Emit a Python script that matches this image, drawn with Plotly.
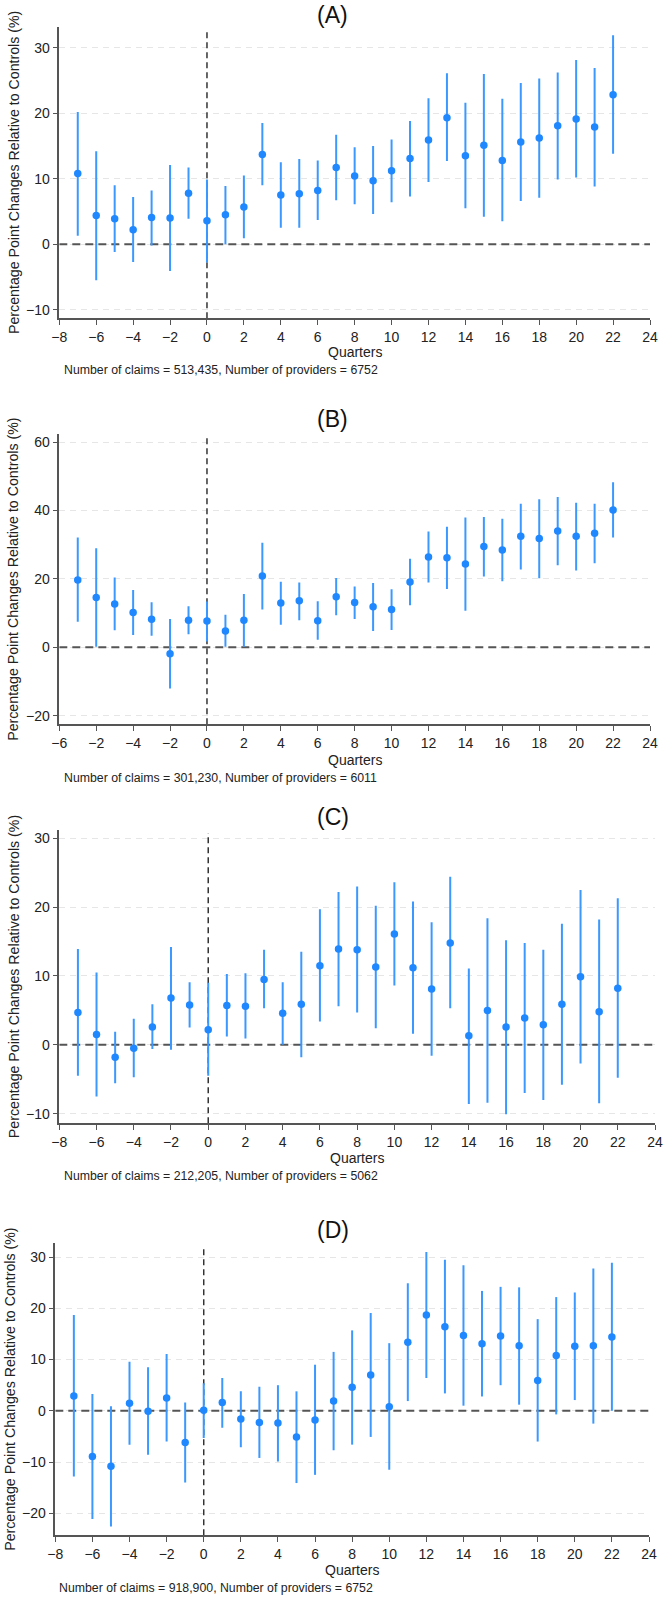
import plotly.graph_objects as go

# ---------------- data ----------------
quarters = list(range(-7, 23))

a_est = [10.8, 4.4, 3.9, 2.2, 4.1, 4.0, 7.8, 3.6, 4.5, 5.7, 13.7, 7.5, 7.7, 8.2, 11.7,
         10.4, 9.7, 11.2, 13.1, 15.9, 19.3, 13.5, 15.1, 12.8, 15.6, 16.2, 18.1, 19.1, 17.9, 22.8]
a_hi = [20.2, 14.2, 9.0, 7.2, 8.2, 12.1, 11.7, 9.9, 8.9, 10.5, 18.5, 12.5, 13.0, 12.8, 16.7,
        14.8, 15.0, 16.0, 18.8, 22.3, 26.1, 21.6, 26.0, 22.2, 24.6, 25.3, 26.2, 28.1, 26.9, 31.9]
a_lo = [1.3, -5.5, -1.2, -2.7, -0.2, -4.1, 3.9, -2.8, 0.0, 0.9, 9.0, 2.5, 2.5, 3.7, 6.7,
        6.1, 4.6, 6.4, 7.3, 9.5, 12.7, 5.5, 4.2, 3.5, 6.6, 7.1, 9.9, 10.2, 8.8, 13.8]

b_est = [19.7, 14.6, 12.7, 10.2, 8.2, -1.9, 7.9, 7.7, 4.8, 7.9, 20.9, 13.0, 13.6, 7.8, 14.8,
         13.1, 11.9, 11.1, 19.1, 26.4, 26.2, 24.4, 29.5, 28.5, 32.5, 31.8, 34.0, 32.5, 33.4, 40.2]
b_hi = [32.1, 29.0, 20.4, 16.8, 13.2, 8.3, 12.0, 13.4, 9.5, 15.6, 30.6, 19.2, 19.0, 13.5, 20.3,
        17.8, 18.8, 17.0, 25.9, 33.9, 35.3, 38.0, 38.1, 37.6, 42.0, 43.3, 44.0, 42.3, 42.0, 48.3]
b_lo = [7.5, 0.2, 5.0, 3.6, 3.4, -12.0, 3.8, 1.7, 0.2, 0.2, 11.1, 6.6, 7.9, 2.2, 9.4,
        8.3, 4.8, 5.1, 12.3, 19.0, 17.1, 10.7, 20.7, 19.3, 22.8, 20.2, 24.0, 22.5, 24.6, 32.1]

c_est = [4.7, 1.5, -1.8, -0.5, 2.6, 6.8, 5.8, 2.2, 5.7, 5.6, 9.5, 4.6, 5.9, 11.5, 13.9,
         13.8, 11.3, 16.1, 11.2, 8.1, 14.8, 1.3, 5.0, 2.6, 3.9, 2.9, 5.9, 9.9, 4.8, 8.2]
c_hi = [13.9, 10.5, 1.9, 3.8, 5.9, 14.2, 9.1, 9.0, 10.3, 10.4, 13.8, 9.1, 13.5, 19.7, 22.2,
        23.0, 20.2, 23.6, 20.8, 17.8, 24.4, 11.1, 18.4, 15.2, 14.8, 13.8, 17.6, 22.5, 18.2, 21.3]
c_lo = [-4.5, -7.5, -5.6, -4.7, -0.6, -0.7, 2.5, -4.5, 1.2, 0.9, 5.3, 0.0, -1.8, 3.4, 5.6,
        4.7, 2.4, 8.6, 1.6, -1.6, 5.3, -8.6, -8.4, -10.1, -7.0, -8.0, -5.8, -2.7, -8.5, -4.8]

d_est = [2.9, -8.9, -10.8, 1.5, -0.1, 2.5, -6.2, 0.1, 1.6, -1.6, -2.3, -2.4, -5.1, -1.8, 1.9,
         4.6, 7.0, 0.8, 13.4, 18.7, 16.4, 14.7, 13.1, 14.6, 12.7, 5.9, 10.8, 12.6, 12.7, 14.4]
d_hi = [18.7, 3.3, 0.9, 9.6, 8.5, 11.1, 1.6, 5.4, 6.4, 3.8, 4.7, 5.0, 3.8, 9.0, 11.5,
        15.7, 19.1, 13.2, 24.9, 31.0, 29.5, 28.4, 23.4, 24.2, 24.1, 17.9, 22.2, 23.1, 27.8, 28.9]
d_lo = [-12.8, -21.1, -22.6, -6.6, -8.6, -6.0, -14.0, -5.3, -3.3, -7.1, -9.2, -9.9, -14.1, -12.5, -7.7,
        -6.6, -5.1, -11.5, 1.9, 6.4, 3.4, 1.0, 2.8, 5.0, 1.2, -6.0, -0.7, 2.1, -2.5, 0.0]

panel_labels = ["(A)", "(B)", "(C)", "(D)"]
footnotes = [
    "Number of claims = 513,435, Number of providers = 6752",
    "Number of claims = 301,230, Number of providers = 6011",
    "Number of claims = 212,205, Number of providers = 5062",
    "Number of claims = 918,900, Number of providers = 6752",
]
x_tickvals = list(range(-8, 25, 2))
x_ticktext_default = [("\u2212" + str(-v)) if v < 0 else str(v) for v in x_tickvals]
x_ticktext_b = ["\u22126", "\u22122", "\u22124", "\u22122"] + [str(v) for v in range(0, 25, 2)]
y_ticks = [[-10, 0, 10, 20, 30], [-20, 0, 20, 40, 60], [-10, 0, 10, 20, 30], [-20, -10, 0, 10, 20, 30]]
y_ranges = [[-11.3, 33.2], [-22.5, 62.3], [-11.4, 31.2], [-24.3, 32.7]]
x_range = [-8, 24]
y_title = "Percentage Point Changes Relative to Controls (%)"
x_title = "Quarters"

# ---------------- layout geometry (pixels) ----------------
W, H = 665, 1597
# (left, right, top, bottom, title_y, xtitle_y, foot_y, foot_x, ytitle_x)
geom = [
    (59.3, 650.0, 26.7, 318.3, 15, 352, 370, 62.7, 13.5),
    (59.3, 650.0, 434.3, 724.3, 419, 760, 778, 62.7, 13.5),
    (59.3, 655.0, 830.0, 1123.3, 817, 1158, 1176, 62.7, 13.5),
    (55.3, 649.0, 1243.3, 1535.3, 1230, 1570, 1587.5, 58.0, 10.5),
]

FONT = "Liberation Sans, Arial, sans-serif"
MARK = "#1f88ff"
LINE = "#3a98ff"

fig = go.Figure()
panels = [(a_est, a_lo, a_hi), (b_est, b_lo, b_hi), (c_est, c_lo, c_hi), (d_est, d_lo, d_hi)]
annotations = []

for i, (est, lo, hi) in enumerate(panels):
    n = i + 1
    xa = "x" if n == 1 else f"x{n}"
    ya = "y" if n == 1 else f"y{n}"
    yr = y_ranges[i]
    # reference lines (drawn first so the estimates sit on top)
    fig.add_trace(go.Scatter(
        x=x_range, y=[0, 0], mode="lines", xaxis=xa, yaxis=ya,
        line=dict(color="#555555", width=2, dash="8px,5px"),
        showlegend=False, hoverinfo="skip",
    ))
    fig.add_trace(go.Scatter(
        x=[0, 0], y=[yr[0], yr[1] - 0.01 * (yr[1] - yr[0])], mode="lines", xaxis=xa, yaxis=ya,
        line=dict(color="#333333", width=1.5, dash="6px,4px"),
        showlegend=False, hoverinfo="skip",
    ))
    plus = [h - e for h, e in zip(hi, est)]
    minus = [e - l for e, l in zip(est, lo)]
    fig.add_trace(go.Scatter(
        x=quarters, y=est, mode="markers", xaxis=xa, yaxis=ya,
        marker=dict(color=MARK, size=7.5),
        error_y=dict(type="data", array=plus, arrayminus=minus, color=LINE, thickness=2, width=0),
        showlegend=False, hoverinfo="skip",
    ))
    left, right, top, bottom, ty, xty, fy, fx, ytx = geom[i]
    xdom = [left / W, right / W]
    ydom = [1 - bottom / H, 1 - top / H]
    xkey = "xaxis" if n == 1 else f"xaxis{n}"
    ykey = "yaxis" if n == 1 else f"yaxis{n}"
    fig.update_layout(**{
        xkey: dict(
            domain=xdom, range=x_range, anchor=ya, showgrid=False, zeroline=False,
            automargin=False,
            showline=True, linecolor="#555555", linewidth=1.5,
            ticks="outside", ticklen=5, tickcolor="#555555", tickwidth=1.2,
            tickvals=x_tickvals, ticktext=(x_ticktext_b if i == 1 else x_ticktext_default),
            tickfont=dict(family=FONT, size=14, color="#222222"),
        ),
        ykey: dict(
            domain=ydom, range=yr, anchor=xa, showgrid=True, automargin=False,
            gridcolor="#e6e6e6", griddash="6px,5px", gridwidth=1, zeroline=False,
            showline=True, linecolor="#555555", linewidth=1.5,
            ticks="outside", ticklen=5, tickcolor="#555555", tickwidth=1.2,
            tickvals=y_ticks[i],
            tickfont=dict(family=FONT, size=14, color="#222222"),
        ),
    })
    # panel label
    annotations.append(dict(text=panel_labels[i], xref="paper", yref="paper", x=0.5, y=1 - ty / H,
                            xanchor="center", yanchor="middle", showarrow=False,
                            font=dict(family=FONT, size=23, color="#111111")))
    # y title
    annotations.append(dict(text=y_title, xref="paper", yref="paper", x=ytx / W,
                            y=1 - (top + bottom) / 2 / H, xanchor="center", yanchor="middle",
                            textangle=-90, showarrow=False, borderpad=0,
                            font=dict(family=FONT, size=14.2, color="#222222")))
    # x title
    annotations.append(dict(text=x_title, xref="paper", yref="paper", x=(left + right) / 2 / W,
                            y=1 - xty / H, xanchor="center", yanchor="middle", showarrow=False,
                            font=dict(family=FONT, size=14, color="#222222")))
    # footnote
    annotations.append(dict(text=footnotes[i], xref="paper", yref="paper", x=fx / W,
                            y=1 - fy / H, xanchor="left", yanchor="middle", showarrow=False,
                            borderpad=0, font=dict(family=FONT, size=12.3, color="#222222")))

fig.update_layout(
    width=W, height=H, margin=dict(l=0, r=0, t=0, b=0, autoexpand=False),
    paper_bgcolor="white", plot_bgcolor="white",
    annotations=annotations,
)

fig.write_html("out.html")
